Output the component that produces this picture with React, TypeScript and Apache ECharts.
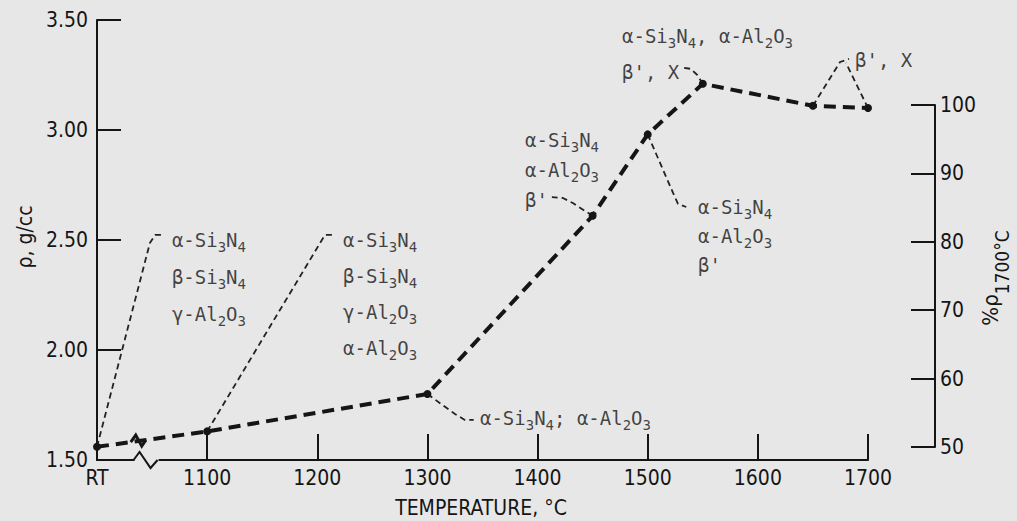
import { useEffect, useRef } from "react";
import * as echarts from "echarts";

// ---- data (RT is placed at 1000 on the temperature scale) ----
const temperatures = [1000, 1100, 1300, 1450, 1500, 1550, 1650, 1700];
const densities = [1.56, 1.63, 1.8, 2.61, 2.98, 3.21, 3.11, 3.1];
const RT_VALUE = 1000;
const RT_LABEL = "RT";
const densityMin = 1.5;
const densityMax = 3.5;
const densityStep = 0.5;
const percentMin = 50;
const percentMax = 100;
const percentStep = 10;

// ---- phase annotations (data coordinates) ----
const leaderRT = [[1000, 1.56], [1048, 2.486], [1052.7, 2.523], [1059, 2.523]];
const leader1100 = [[1100, 1.63], [1202.5, 2.486], [1207, 2.523], [1214, 2.523]];
const leader1300 = [[1300, 1.8], [1325, 1.709], [1334, 1.682], [1342, 1.682]];
const leader1450 = [[1450, 2.61], [1432, 2.668], [1423, 2.691], [1413, 2.695]];
const leader1500 = [[1500, 2.98], [1523, 2.714], [1527.5, 2.664], [1535, 2.65]];
const leader1550 = [[1550, 3.21], [1545, 3.25], [1539, 3.278], [1533, 3.282]];
const leader1650 = [[1650, 3.11], [1674.6, 3.309], [1682.8, 3.323]];
const leader1700 = [[1700, 3.1], [1680, 3.305]];
const leaders = [leaderRT, leader1100, leader1300, leader1450, leader1500, leader1550, leader1650, leader1700];

const phasesRT = ["α-Si3N4", "β-Si3N4", "γ-Al2O3"];
const phases1100 = ["α-Si3N4", "β-Si3N4", "γ-Al2O3", "α-Al2O3"];
const phases1300 = ["α-Si3N4; α-Al2O3"];
const phases1450 = ["α-Si3N4", "α-Al2O3", "β'"];
const phases1500 = ["α-Si3N4", "α-Al2O3", "β'"];
const phases1550 = ["α-Si3N4, α-Al2O3", "β', X"];
const phases1650 = ["β', X"];

const annotations = [
  { at: [1068, 2.5], lh: 37, lines: phasesRT },
  { at: [1223.4, 2.5], lh: 36, lines: phases1100 },
  { at: [1347.7, 1.691], lh: 30, lines: phases1300 },
  { at: [1388.6, 2.955], lh: 30, lines: phases1450 },
  { at: [1545.7, 2.65], lh: 29, lines: phases1500 },
  { at: [1476.7, 3.427], lh: 36, lines: phases1550 },
  { at: [1688.2, 3.318], lh: 30, lines: phases1650 },
];

const BG = "#e7e7e7";
const INK = "#151515";
const NARROW = "'Liberation Sans Narrow', 'DejaVu Sans Condensed', 'Liberation Sans', sans-serif";
const MONO = "'DejaVu Sans Mono', 'Liberation Mono', monospace";

function chem(s: string): string {
  const parts = s.match(/\d+|[^\d]+/g) || [];
  return parts.map((p) => (/^\d+$/.test(p) ? `{s|${p}}` : `{m|${p}}`)).join("");
}

export default function App() {
  const ref = useRef<HTMLDivElement>(null);

  useEffect(() => {
    const el = ref.current!;
    const chart = echarts.init(el, null, { renderer: "svg", width: 1017, height: 521 });

    const axisLine = { show: true, lineStyle: { color: INK, width: 2 } };
    const tickLabel = { color: INK, fontFamily: NARROW, fontSize: 21 };

    const series: any[] = [];
    leaders.forEach((d) => {
      series.push({
        type: "line",
        xAxisIndex: 0,
        yAxisIndex: 0,
        data: d,
        symbol: "none",
        silent: true,
        z: 2,
        lineStyle: { color: "#222", width: 1.8, type: [6, 4] },
      });
    });
    series.push({
      type: "line",
      xAxisIndex: 0,
      yAxisIndex: 0,
      data: temperatures.map((t, i) => [t, densities[i]]),
      symbol: "circle",
      symbolSize: 8,
      silent: true,
      z: 3,
      itemStyle: { color: INK },
      lineStyle: { color: INK, width: 4, type: [12, 7] },
    });
    annotations.forEach((a) => {
      series.push({
        type: "scatter",
        xAxisIndex: 0,
        yAxisIndex: 0,
        symbolSize: 0,
        silent: true,
        z: 4,
        data: [
          {
            value: a.at,
            label: {
              show: true,
              position: [0, 0],
              align: "left",
              verticalAlign: "top",
              offset: [0, -a.lh / 2],
              formatter: a.lines.map(chem).join("\n"),
              rich: {
                m: { fontFamily: MONO, fontSize: 19, color: INK, lineHeight: a.lh },
                s: { fontFamily: MONO, fontSize: 14, color: INK, lineHeight: 14, padding: [14, 0, 0, 0] },
              },
            },
          },
        ],
      });
    });

    chart.setOption({
      animation: false,
      backgroundColor: BG,
      grid: [
        { left: 97, top: 20, width: 771, height: 440, containLabel: false },
        { left: 935, top: 105, width: 1, height: 342, containLabel: false },
      ],
      xAxis: [
        {
          gridIndex: 0,
          type: "value",
          min: RT_VALUE,
          max: 1700,
          interval: 100,
          axisLine,
          axisTick: { show: true, inside: true, length: 26, lineStyle: { color: INK, width: 2 } },
          axisLabel: {
            ...tickLabel,
            margin: 7,
            formatter: (v: number) => (v === RT_VALUE ? RT_LABEL : String(v)),
          },
          splitLine: { show: false },
        },
        { gridIndex: 1, type: "value", show: false, min: 0, max: 1 },
      ],
      yAxis: [
        {
          gridIndex: 0,
          type: "value",
          min: densityMin,
          max: densityMax,
          interval: densityStep,
          axisLine,
          axisTick: { show: true, inside: true, length: 24, lineStyle: { color: INK, width: 2 } },
          axisLabel: { ...tickLabel, margin: 9, formatter: (v: number) => v.toFixed(2) },
          splitLine: { show: false },
        },
        {
          gridIndex: 1,
          type: "value",
          position: "right",
          min: percentMin,
          max: percentMax,
          interval: percentStep,
          axisLine,
          axisTick: { show: true, inside: true, length: 24, lineStyle: { color: INK, width: 2 } },
          axisLabel: { ...tickLabel, margin: 4 },
          splitLine: { show: false },
        },
      ],
      series,
    });

    // decorations: axis breaks and titles
    const p0 = chart.convertToPixel({ gridIndex: 0 }, [temperatures[0], densities[0]]) as number[];
    const p1 = chart.convertToPixel({ gridIndex: 0 }, [temperatures[1], densities[1]]) as number[];
    const bx = p0[0] + (p1[0] - p0[0]) * 0.37;
    const by = p0[1] + (p1[1] - p0[1]) * 0.37;
    const ab = chart.convertToPixel({ gridIndex: 0 }, [1045, densityMin]) as number[];

    chart.setOption({
      graphic: [
        {
          type: "rect",
          z: 100,
          shape: { x: ab[0] - 12, y: ab[1] - 3, width: 24, height: 6 },
          style: { fill: BG },
        },
        {
          type: "polyline",
          z: 101,
          shape: {
            points: [
              [ab[0] - 13, ab[1]],
              [ab[0] - 7, ab[1] - 8],
              [ab[0] + 4, ab[1] + 8],
              [ab[0] + 11, ab[1]],
            ],
          },
          style: { stroke: INK, lineWidth: 2, fill: "none" },
        },
        {
          type: "polyline",
          z: 101,
          shape: {
            points: [
              [bx - 7, by + 1],
              [bx - 2, by - 6],
              [bx + 4, by + 5],
              [bx + 8, by - 1],
            ],
          },
          style: { stroke: INK, lineWidth: 3, fill: "none" },
        },
        {
          type: "text",
          z: 101,
          x: 25,
          y: 237,
          rotation: Math.PI / 2,
          style: {
            text: "ρ, g/cc",
            fill: INK,
            font: `21px ${NARROW}`,
            align: "center",
            verticalAlign: "middle",
          },
        },
        {
          type: "text",
          z: 101,
          x: 481,
          y: 508,
          style: {
            text: "TEMPERATURE, °C",
            fill: INK,
            font: `21px ${NARROW}`,
            align: "center",
            verticalAlign: "middle",
          },
        },
        {
          type: "text",
          z: 101,
          x: 990,
          y: 278,
          rotation: Math.PI / 2,
          style: {
            text: "{m|%ρ}{s|1700°C}",
            align: "center",
            verticalAlign: "middle",
            rich: {
              m: { fontFamily: NARROW, fontSize: 22, fill: INK, lineHeight: 26 },
              s: { fontFamily: NARROW, fontSize: 19, fill: INK, lineHeight: 19, padding: [24, 0, 0, 0] },
            },
          },
        },
      ],
    });

    return () => chart.dispose();
  }, []);

  return (
    <div
      ref={ref}
      style={{ position: "fixed", left: 0, top: 0, width: 1017, height: 521, background: BG }}
    />
  );
}
